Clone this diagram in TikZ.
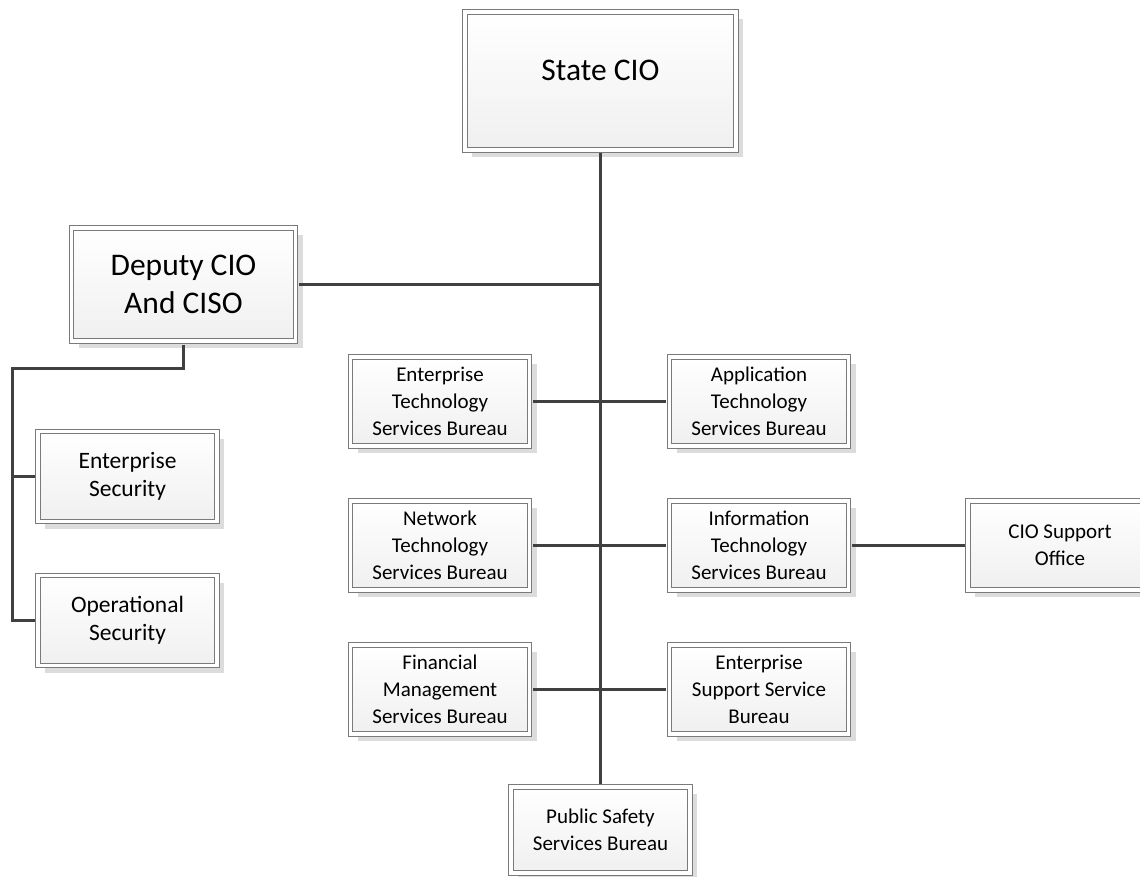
\documentclass[tikz,border=0pt]{standalone}
\usepackage{fontspec}
\setmainfont{Carlito}
\usetikzlibrary{shadows}
\definecolor{boxline}{HTML}{7A7A7A}
\definecolor{conn}{HTML}{404040}
\definecolor{shadowgray}{HTML}{DCDCDC}
\begin{document}
\begin{tikzpicture}[x=1pt,y=-1pt,
  orgbox/.style={draw=boxline, line width=1pt, double=white, double distance=3.5pt,
    top color=white, bottom color=black!6, shading angle=0,
    drop shadow={shadow xshift=7pt, shadow yshift=-7pt, fill=shadowgray, opacity=1},
    align=center, inner sep=0pt, font=\fontsize{21}{27}\selectfont},
  smallbox/.style={orgbox, minimum width=179pt, minimum height=89pt},
  bigfont/.style={font=\fontsize{31.5}{38}\selectfont},
  midfont/.style={font=\fontsize{23.5}{28}\selectfont},
  connector/.style={draw=conn, line width=2.9pt},
  both/.style={shorten <=3pt, shorten >=3pt}]
\useasboundingbox (0,0) rectangle (1140,877);

\node[orgbox, bigfont, minimum width=271pt, minimum height=138pt, text height=21pt, text depth=22pt] (state) at (600.5,81) {State CIO};
\node[orgbox, bigfont, minimum width=224pt, minimum height=113pt] (deputy) at (183.5,284.5) {Deputy CIO\\And CISO};
\node[smallbox, midfont, minimum height=90pt] (entsec) at (127.5,476.5) {Enterprise\\Security};
\node[smallbox, midfont, minimum height=90pt] (opsec) at (127.5,620.5) {Operational\\Security};

\node[smallbox] (ets) at (440,401.5) {Enterprise\\Technology\\Services Bureau};
\node[smallbox] (ats) at (759,401.5) {Application\\Technology\\Services Bureau};
\node[smallbox] (nts) at (440,545.5) {Network\\Technology\\Services Bureau};
\node[smallbox] (its) at (759,545.5) {Information\\Technology\\Services Bureau};
\node[smallbox, minimum width=184pt] (cso) at (1060,545.5) {CIO Support\\Office};
\node[smallbox] (fms) at (440,689.5) {Financial\\Management\\Services Bureau};
\node[smallbox] (ess) at (759,689.5) {Enterprise\\Support Service\\Bureau};
\node[smallbox, minimum height=86pt] (pss) at (600.5,830) {Public Safety\\Services Bureau};

\coordinate (lb) at (12.5,368.5);
\draw[connector, both] (state.south) -- (pss.north);
\draw[connector, shorten <=3pt] (deputy.east) -- (deputy.east -| state.south);
\draw[connector, both] (ets.east) -- (ats.west);
\draw[connector, both] (nts.east) -- (its.west);
\draw[connector, both] (its.east) -- (cso.west);
\draw[connector, both] (fms.east) -- (ess.west);
\draw[connector, both] (deputy.south) |- (lb) -- (lb |- opsec.west) -- (opsec.west);
\draw[connector, shorten >=3pt] (lb |- entsec.west) -- (entsec.west);
\end{tikzpicture}
\end{document}
